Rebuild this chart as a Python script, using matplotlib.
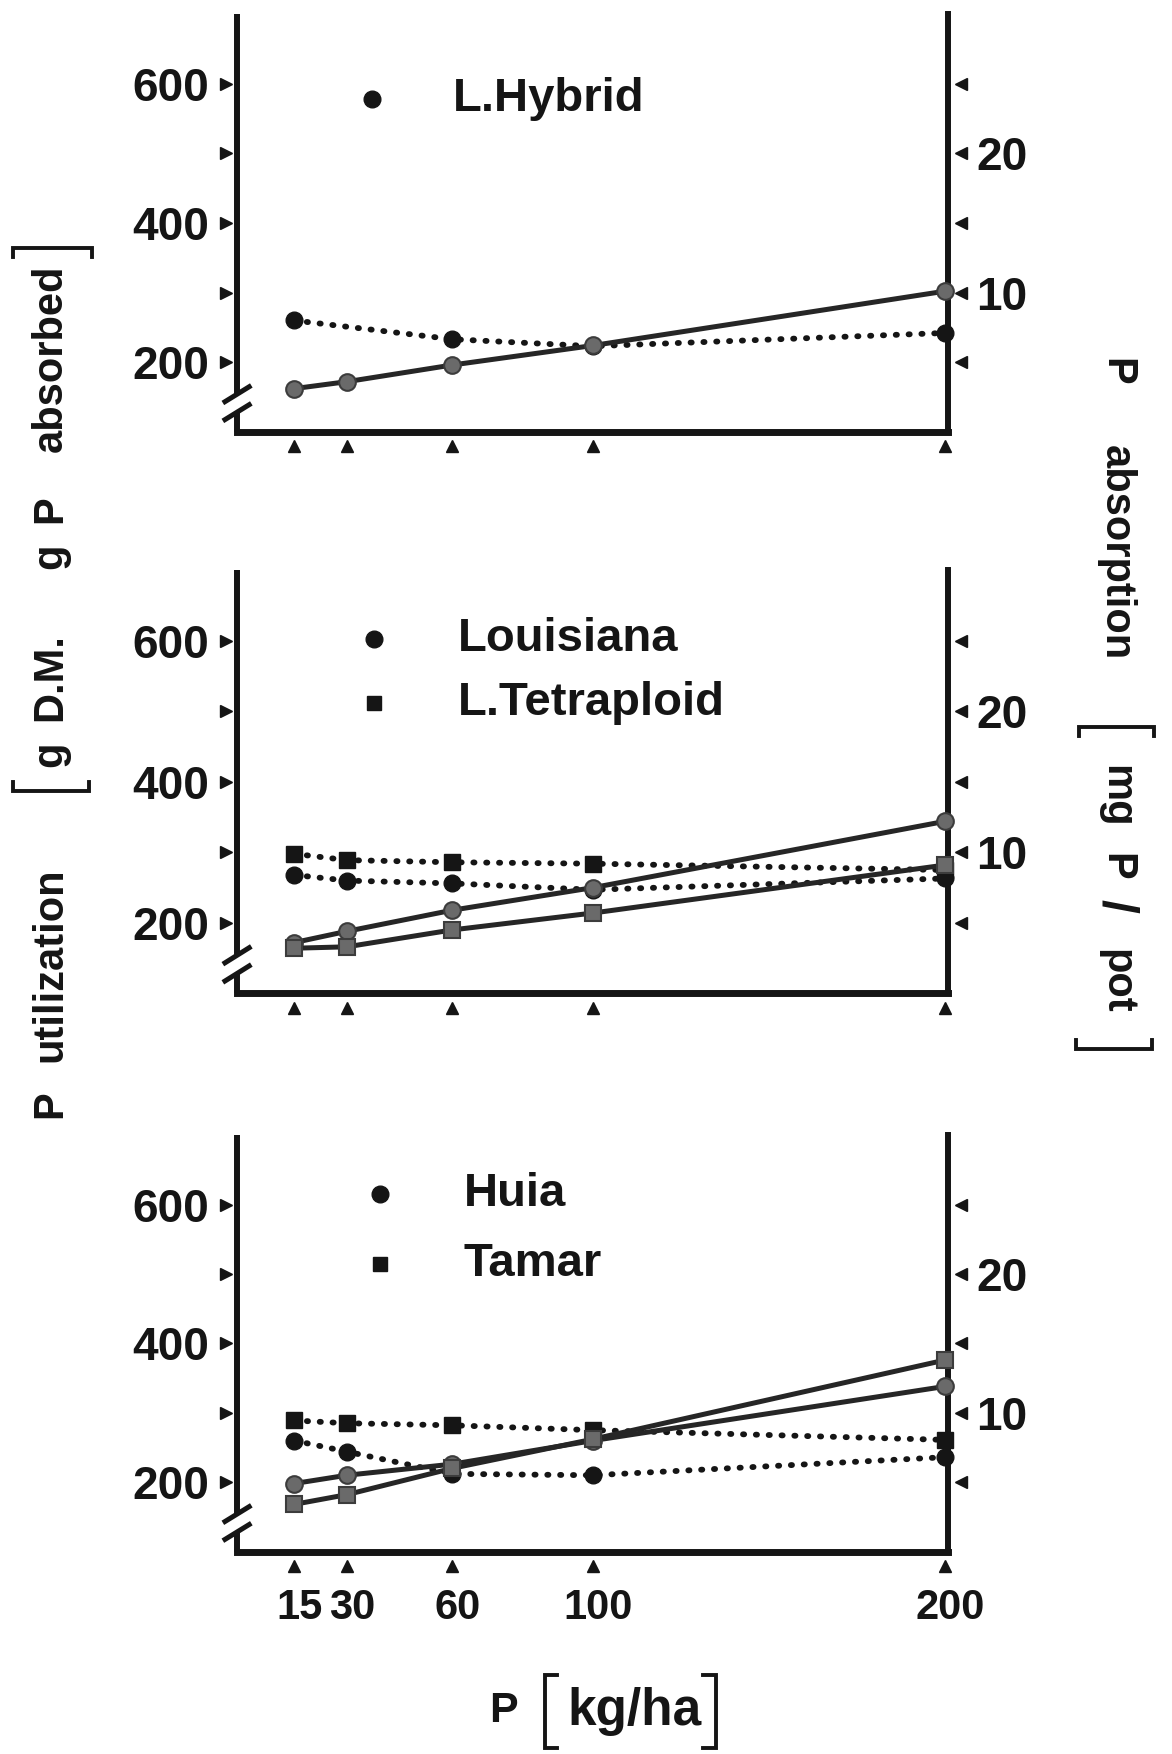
"""
P utilization / P absorption vs. P rate, three cultivar panels (reconstructed figure)
"""
import matplotlib
matplotlib.use('Agg')
import matplotlib.pyplot as plt
from matplotlib.lines import Line2D
from matplotlib.transforms import blended_transform_factory, ScaledTranslation

plt.rcParams['font.family'] = ['Liberation Sans Narrow', 'Liberation Sans', 'DejaVu Sans']

# ---- data -----------------------------------------------------------------
RATES = [15, 30, 60, 100, 200]               # P [kg/ha]
HYBRID_UTIL_RATES = [15, 60, 100, 200]       # no point plotted at 30

# P absorption [mg P / pot]  (solid lines, right axis)
hybrid_abs = [3.1, 3.6, 4.8, 6.2, 10.1]
louisiana_abs = [3.6, 4.4, 5.9, 7.5, 12.2]
tetraploid_abs = [3.2, 3.3, 4.5, 5.7, 9.1]
huia_abs = [4.9, 5.5, 6.3, 8.0, 11.9]
tamar_abs = [3.4, 4.1, 6.0, 8.1, 13.8]

# P utilization [g D.M. / g P absorbed]  (dotted lines, left axis)
hybrid_util = [260, 233, 223, 242]
louisiana_util = [268, 260, 256, 247, 263]
tetraploid_util = [298, 289, 286, 284, 275]
huia_util = [260, 244, 212, 210, 236]
tamar_util = [289, 285, 282, 275, 261]

LEFT_TICKS = [200, 300, 400, 500, 600]
LEFT_LABELS = ['200', '', '400', '', '600']
RIGHT_TICKS = [5, 10, 15, 20, 25]
RIGHT_LABELS = ['', '10', '', '20', '']
X_LABELS = ['15', '30', '60', '100', '200']

panels = [
    {'names': ['L.Hybrid'], 'markers': ['o'],
     'abs': [hybrid_abs], 'util': [(HYBRID_UTIL_RATES, hybrid_util)]},
    {'names': ['Louisiana', 'L.Tetraploid'], 'markers': ['o', 's'],
     'abs': [louisiana_abs, tetraploid_abs],
     'util': [(RATES, louisiana_util), (RATES, tetraploid_util)]},
    {'names': ['Huia', 'Tamar'], 'markers': ['o', 's'],
     'abs': [huia_abs, tamar_abs],
     'util': [(RATES, huia_util), (RATES, tamar_util)]},
]

# axis titles, split in pieces so the wide spacing of the original is kept
LEFT_TITLE = [('P', 987), ('utilization', 862), ('g', 674), ('D.M.', 605),
              ('g', 497), ('P', 455), ('absorbed', 320)]
RIGHT_TITLE = [('P', 332), ('absorption', 494), ('mg', 712), ('P', 775),
               ('/', 810), ('pot', 877)]
BOTTOM_TITLE = [('P', 450, 31), ('kg/ha', 567, 37)]

# ---- layout / style -------------------------------------------------------
W, H = 1048.0, 1568.0   # reference frame used for measuring positions
AX_LEFT, AX_RIGHT = 212, 848
AX_SPANS = [(12.75, 386), (510, 888), (1015, 1387)]
LEGEND_POS = [  # marker x, text x, first row y, row step (axes fraction)
    (0.190, 0.303, 0.798, 0.0),
    (0.193, 0.311, 0.839, 0.152),
    (0.201, 0.319, 0.858, 0.167),
]
# thin unit brackets: stem start, stem end, serif offset (reference pixels)
BRACKETS = [
    ((487, 1497), (487, 1563), (11, 0)), ((640, 1497), (640, 1563), (-11, 0)),
    ((12, 707), (80, 707), (0, -8)), ((12, 222), (82, 222), (0, 8)),
    ((965, 650), (1032, 650), (0, 8)), ((962, 938), (1030, 938), (0, -8)),
]
INK = '#151515'
SOLID_FACE = '#6a6a6a'
SOLID_EDGE = '#3c3c3c'

fig = plt.figure(figsize=(11.72, 17.54), dpi=100)

for i, (p, (ytop, ybot)) in enumerate(zip(panels, AX_SPANS)):
    rect = [AX_LEFT / W, 1 - ybot / H, (AX_RIGHT - AX_LEFT) / W, (ybot - ytop) / H]
    ax = fig.add_axes(rect)
    ax2 = ax.twinx()
    ax.set_xlim(-1.2, 201)
    ax.set_ylim(100, 700)
    ax2.set_ylim(0, 30)
    ax.patch.set_visible(False)

    # dotted: utilization (left scale)
    for (xs, vals), mk in zip(p['util'], p['markers']):
        ax.plot(xs, vals, color=INK, lw=4.2, ls=(0, (0.2, 2.0)),
                dash_capstyle='round', marker=mk, ms=12,
                mfc=INK, mec=INK, clip_on=False, zorder=3)
    # solid: absorption (right scale)
    for vals, mk in zip(p['abs'], p['markers']):
        ax2.plot(RATES, vals, color='#262626', lw=3.6, ls='-',
                 marker=mk, ms=12, mfc=SOLID_FACE, mec=SOLID_EDGE, mew=1.5,
                 clip_on=False, zorder=3)

    # spines
    for s in ax.spines.values():
        s.set_visible(False)
    for s in ax2.spines.values():
        s.set_visible(False)
    ax.spines['bottom'].set_visible(True)
    ax.spines['bottom'].set_linewidth(5)
    ax.spines['bottom'].set_color(INK)
    ax.spines['bottom'].set_capstyle('projecting')
    ax2.spines['right'].set_visible(True)
    ax2.spines['right'].set_linewidth(4.3)
    ax2.spines['right'].set_color(INK)

    # broken left spine
    up, lo = 0.090, 0.047
    ax.plot([0, 0], [1, up], transform=ax.transAxes, color=INK, lw=4.3,
            clip_on=False, solid_capstyle='butt')
    ax.plot([0, 0], [lo, 0], transform=ax.transAxes, color=INK, lw=4.3,
            clip_on=False, solid_capstyle='butt')
    for c in (up, lo):
        ax.plot([-0.02, 0.02], [c - 0.021, c + 0.021], transform=ax.transAxes,
                color=INK, lw=3.6, clip_on=False, solid_capstyle='butt')

    # triangle ticks
    ty = blended_transform_factory(ax.transAxes, ax.transData)
    ax.plot([-0.016] * len(LEFT_TICKS), LEFT_TICKS, ls='none', marker='>',
            ms=8, color=INK, transform=ty, clip_on=False)
    ty2 = blended_transform_factory(ax2.transAxes, ax2.transData)
    ax2.plot([1.018] * len(RIGHT_TICKS), RIGHT_TICKS, ls='none', marker='<',
             ms=8, color=INK, transform=ty2, clip_on=False)
    tx = blended_transform_factory(ax.transData, ax.transAxes)
    ax.plot(RATES, [-0.034] * len(RATES), ls='none', marker='^',
            ms=8, color=INK, transform=tx, clip_on=False)

    tick_font = dict(fontsize=33, fontweight='bold', color=INK)
    ax.set_yticks(LEFT_TICKS)
    ax.set_yticklabels(LEFT_LABELS, **tick_font)
    ax.tick_params(axis='y', length=0, pad=20)
    ax2.set_yticks(RIGHT_TICKS)
    ax2.set_yticklabels(RIGHT_LABELS, **tick_font)
    ax2.tick_params(axis='y', length=0, pad=20)
    ax.set_xticks(RATES)
    ax.tick_params(axis='x', length=0, pad=26)
    if i == len(panels) - 1:
        ax.set_xticklabels(X_LABELS, fontsize=30, fontweight='bold', color=INK)
        shift = ScaledTranslation(0.05, 0, fig.dpi_scale_trans)
        for lab in ax.get_xticklabels():
            lab.set_transform(lab.get_transform() + shift)
    else:
        ax.set_xticklabels([])

    # in-panel legend
    mx, tx_, y0, step = LEGEND_POS[i]
    for j, (name, mk) in enumerate(zip(p['names'], p['markers'])):
        yy = y0 - j * step
        ax.plot([mx], [yy], marker=mk, ms=12 if mk == 'o' else 10, color=INK,
                ls='none', transform=ax.transAxes, clip_on=False)
        ax.text(tx_, yy, name, transform=ax.transAxes, ha='left', va='center',
                fontsize=34, fontweight='bold', color=INK)

# axis titles
word_font = dict(fontweight='bold', color=INK,
                 family=['Liberation Sans', 'DejaVu Sans'])


def fx(x):
    return x / W


def fy(y):
    return 1 - y / H


for s, y in LEFT_TITLE:
    fig.text(fx(45), fy(y), s, rotation=90, ha='center', va='center',
             fontsize=30, **word_font)
for s, y in RIGHT_TITLE:
    fig.text(fx(998), fy(y), s, rotation=-90, ha='center', va='center',
             fontsize=36 if s == '/' else 30, **word_font)
for s, x, size in BOTTOM_TITLE:
    fig.text(fx(x), fy(1530), s, ha='center', va='center', fontsize=size, **word_font)

for (x0, y0), (x1, y1), (dx, dy) in BRACKETS:
    xs = [x0 + dx, x0, x1, x1 + dx]
    ys = [y0 + dy, y0, y1, y1 + dy]
    fig.add_artist(Line2D([fx(v) for v in xs], [fy(v) for v in ys],
                          transform=fig.transFigure, color=INK, lw=2.8,
                          solid_joinstyle='miter'))

fig.savefig('out.png', dpi=100)
